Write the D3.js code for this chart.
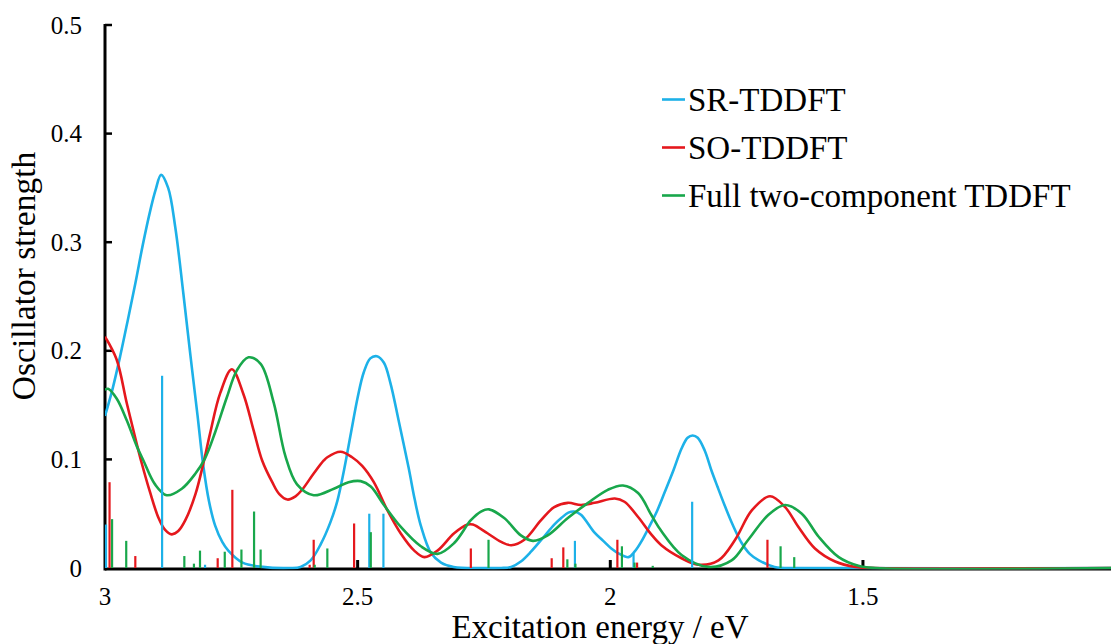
<!DOCTYPE html>
<html>
<head>
<meta charset="utf-8">
<script src="https://cdn.jsdelivr.net/npm/d3@7"></script>
<style>
  html, body { margin: 0; padding: 0; background: #ffffff; }
  svg { display: block; }
</style>
</head>
<body>
<svg id="chart" width="1111" height="644"></svg>
<script>
// ---------- data (energy in eV, oscillator strength) ----------
const seriesNames = ["SR-TDDFT", "SO-TDDFT", "Full two-component TDDFT"];
const seriesColors = ["#1db1e8", "#e5181d", "#18a74b"];

const xTicks = [3, 2.5, 2, 1.5];
const xTickLabels = ["3", "2.5", "2", "1.5"];
const yTicks = [0, 0.1, 0.2, 0.3, 0.4, 0.5];
const yTickLabels = ["0", "0.1", "0.2", "0.3", "0.4", "0.5"];

// broadened spectra
const srCurveE = [3.000,2.985,2.970,2.955,2.940,2.925,2.910,2.900,2.889,2.875,2.861,2.845,2.831,2.817,2.806,2.794,2.782,2.768,2.756,2.728,2.688,2.633,2.613,2.593,2.573,2.554,2.540,2.527,2.513,2.500,2.488,2.475,2.462,2.448,2.435,2.419,2.399,2.387,2.375,2.355,2.335,2.310,2.256,2.216,2.196,2.177,2.157,2.131,2.111,2.097,2.083,2.071,2.058,2.032,2.014,1.998,1.982,1.964,1.952,1.939,1.923,1.907,1.893,1.875,1.859,1.847,1.837,1.827,1.813,1.800,1.788,1.774,1.758,1.740,1.724,1.706,1.675,1.621,1.000];
const srCurveF = [0.140,0.165,0.195,0.228,0.262,0.298,0.330,0.348,0.362,0.350,0.314,0.253,0.196,0.141,0.096,0.061,0.039,0.024,0.016,0.005,0.001,0.000,0.001,0.007,0.022,0.042,0.062,0.090,0.125,0.157,0.180,0.193,0.195,0.189,0.170,0.136,0.092,0.063,0.039,0.014,0.005,0.001,0.000,0.000,0.001,0.006,0.015,0.029,0.040,0.046,0.051,0.052,0.049,0.033,0.025,0.018,0.013,0.010,0.015,0.024,0.038,0.053,0.069,0.090,0.110,0.120,0.122,0.120,0.108,0.090,0.075,0.058,0.040,0.023,0.013,0.007,0.001,0.000,0.000];

const soCurveE = [3.000,2.977,2.957,2.937,2.927,2.911,2.894,2.881,2.868,2.855,2.841,2.821,2.805,2.792,2.772,2.749,2.726,2.706,2.689,2.669,2.655,2.639,2.623,2.610,2.587,2.567,2.560,2.534,2.511,2.491,2.468,2.441,2.415,2.388,2.368,2.342,2.309,2.282,2.272,2.243,2.216,2.196,2.170,2.137,2.111,2.084,2.058,2.031,1.991,1.972,1.945,1.919,1.899,1.859,1.826,1.786,1.753,1.720,1.684,1.654,1.628,1.595,1.555,1.515,1.476,1.000];
const soCurveF = [0.213,0.192,0.152,0.114,0.096,0.070,0.046,0.035,0.031,0.034,0.044,0.068,0.097,0.124,0.161,0.183,0.160,0.127,0.099,0.079,0.068,0.063,0.066,0.072,0.087,0.099,0.102,0.107,0.102,0.094,0.079,0.053,0.032,0.016,0.010,0.016,0.032,0.040,0.040,0.032,0.024,0.021,0.026,0.044,0.056,0.060,0.058,0.060,0.064,0.061,0.047,0.031,0.021,0.009,0.003,0.007,0.026,0.053,0.066,0.056,0.038,0.018,0.006,0.001,0.000,0.000];

const fullCurveE = [3.000,2.994,2.977,2.957,2.937,2.924,2.901,2.878,2.848,2.821,2.802,2.782,2.759,2.739,2.716,2.692,2.666,2.643,2.620,2.587,2.547,2.518,2.494,2.474,2.448,2.415,2.375,2.342,2.309,2.276,2.256,2.240,2.210,2.177,2.153,2.124,2.084,2.044,2.005,1.975,1.945,1.919,1.899,1.859,1.806,1.760,1.727,1.687,1.654,1.621,1.588,1.548,1.509,1.476,1.000];
const fullCurveF = [0.164,0.165,0.156,0.136,0.112,0.099,0.077,0.067,0.073,0.087,0.101,0.125,0.157,0.182,0.194,0.188,0.152,0.103,0.077,0.067,0.073,0.079,0.080,0.075,0.058,0.038,0.020,0.013,0.023,0.044,0.052,0.054,0.046,0.030,0.025,0.030,0.046,0.060,0.072,0.076,0.069,0.049,0.034,0.012,0.001,0.007,0.026,0.049,0.058,0.050,0.029,0.010,0.002,0.000,0.000];

// stick spectra (excitations)
const srStickE = [2.998,2.887,2.802,2.477,2.449,2.070,1.954,1.838];
const srStickF = [0.040,0.177,0.003,0.050,0.050,0.025,0.0135,0.061];

const soStickE = [2.991,2.940,2.777,2.748,2.595,2.587,2.507,2.276,2.116,2.093,1.986,1.947,1.689];
const soStickF = [0.079,0.011,0.009,0.072,0.003,0.026,0.041,0.018,0.009,0.019,0.026,0.005,0.026];

const fullStickE = [2.986,2.958,2.843,2.824,2.812,2.763,2.730,2.705,2.692,2.585,2.560,2.474,2.241,2.085,2.069,1.977,1.952,1.916,1.663,1.636];
const fullStickF = [0.045,0.025,0.011,0.004,0.016,0.015,0.017,0.052,0.017,0.003,0.018,0.033,0.026,0.008,0.004,0.020,0.005,0.002,0.020,0.010];

// ---------- drawing ----------
(function () {
const FONT = "'Liberation Serif', 'Times New Roman', serif";
const svg = d3.select("#chart");
const plotLeft = 105, plotBottom = 568, plotTop = 25;
const x = d3.scaleLinear().domain([3, 1]).range([plotLeft, plotLeft + 2 * 505.3]);
const y = d3.scaleLinear().domain([0, 0.5]).range([plotBottom, plotTop]);

const curves = [
  { E: srCurveE, F: srCurveF, c: seriesColors[0] },
  { E: soCurveE, F: soCurveF, c: seriesColors[1] },
  { E: fullCurveE, F: fullCurveF, c: seriesColors[2] }
];
const sticks = [
  { E: srStickE, F: srStickF, c: seriesColors[0] },
  { E: soStickE, F: soStickF, c: seriesColors[1] },
  { E: fullStickE, F: fullStickF, c: seriesColors[2] }
];

// axes lines (drawn first, curves overlay)
const axisG = svg.append("g");
axisG.append("line").attr("x1", plotLeft).attr("x2", 1111)
  .attr("y1", plotBottom + 1).attr("y2", plotBottom + 1)
  .attr("stroke", "#000").attr("stroke-width", 3);
axisG.append("line").attr("x1", plotLeft).attr("x2", plotLeft)
  .attr("y1", plotTop - 1).attr("y2", plotBottom + 2.5)
  .attr("stroke", "#000").attr("stroke-width", 3);

// y ticks (inward) and labels
yTicks.forEach((t, i) => {
  if (t > 0) {
    axisG.append("line").attr("x1", plotLeft).attr("x2", plotLeft + 7)
      .attr("y1", y(t)).attr("y2", y(t))
      .attr("stroke", "#000").attr("stroke-width", 2.5);
  }
  svg.append("text").attr("x", 82).attr("y", y(t)).attr("dy", "0.34em")
    .attr("text-anchor", "end").attr("font-family", FONT).attr("font-size", 25)
    .text(yTickLabels[i]);
});

// x ticks (inward) and labels
xTicks.forEach((t, i) => {
  if (t < 3) {
    axisG.append("line").attr("x1", x(t)).attr("x2", x(t))
      .attr("y1", plotBottom).attr("y2", plotBottom - 8)
      .attr("stroke", "#000").attr("stroke-width", 3);
  }
  svg.append("text").attr("x", x(t)).attr("y", 605)
    .attr("text-anchor", "middle").attr("font-family", FONT).attr("font-size", 25)
    .text(xTickLabels[i]);
});

// curves
const line = d3.line().x(d => x(d[0])).y(d => y(d[1])).curve(d3.curveCatmullRom.alpha(0.5));
svg.append("clipPath").attr("id", "plotclip")
  .append("rect").attr("x", plotLeft).attr("y", 0).attr("width", 1111 - plotLeft).attr("height", plotBottom + 1.5);
curves.forEach(s => {
  const pts = s.E.map((e, i) => [e, s.F[i]]);
  svg.append("path").datum(pts).attr("d", line)
    .attr("fill", "none").attr("stroke", s.c).attr("stroke-width", 2.6)
    .attr("stroke-linejoin", "round")
    .attr("clip-path", "url(#plotclip)");
});

// sticks
sticks.forEach(s => {
  svg.append("g").selectAll("line").data(s.E.map((e, i) => [e, s.F[i]]))
    .join("line")
    .attr("x1", d => x(d[0])).attr("x2", d => x(d[0]))
    .attr("y1", y(0)).attr("y2", d => y(d[1]))
    .attr("stroke", s.c).attr("stroke-width", 2.2);
});

// legend
const legendY = [99.5, 147.5, 195.5];
seriesNames.forEach((n, i) => {
  svg.append("line").attr("x1", 662).attr("x2", 685)
    .attr("y1", legendY[i]).attr("y2", legendY[i])
    .attr("stroke", seriesColors[i]).attr("stroke-width", 2.6);
  svg.append("text").attr("x", 688).attr("y", legendY[i] + 11)
    .attr("font-family", FONT).attr("font-size", 33).text(n);
});

// axis titles
svg.append("text").attr("x", 600).attr("y", 638).attr("text-anchor", "middle")
  .attr("font-family", FONT).attr("font-size", 33).text("Excitation energy / eV");
svg.append("text").attr("transform", "translate(35,276) rotate(-90)")
  .attr("text-anchor", "middle").attr("font-family", FONT).attr("font-size", 33.5)
  .text("Oscillator strength");
})();
</script>
</body>
</html>
